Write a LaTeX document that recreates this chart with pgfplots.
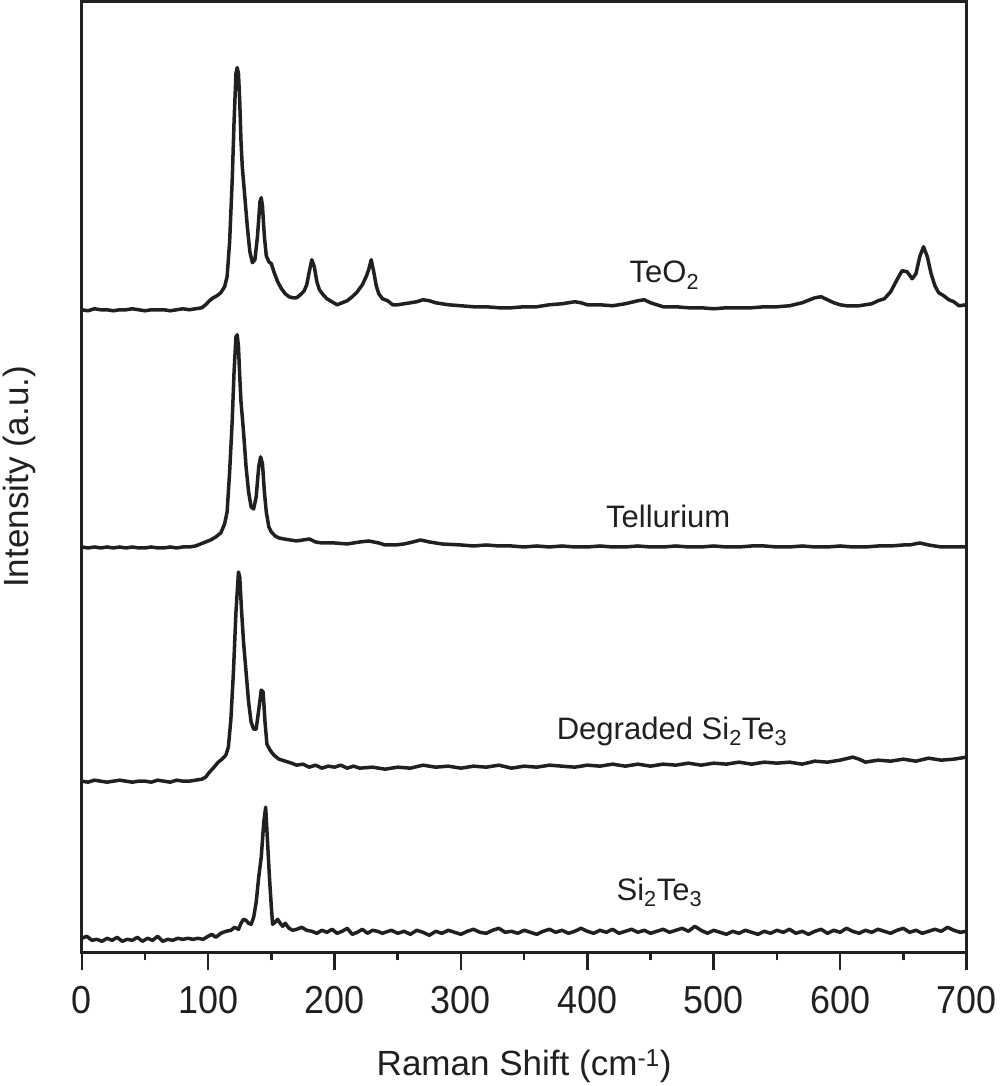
\documentclass[border=0pt]{standalone}
\usepackage{pgfplots}
\usepackage{pgfplotstable}
\pgfplotsset{compat=1.18}
\usepackage{fontspec}
\setmainfont{Liberation Sans}
\newfontfamily\narrowfont{Liberation Sans}[FakeStretch=0.92]
\definecolor{ink}{RGB}{35,31,32}

\pgfplotstableread{
x py
0 308
5 309
10 307
15 308
20 308
25 309
30 308
35 308
40 307
45 308
50 309
55 308
60 308
65 308
70 309
75 308
80 307
85 308
90 307
95 306
98 303
101 299
104 296
107 294
110 291
113 285
115 275
117 240
119 180
120.5 120
122 72
123 66
124 72
125 100
126 140
127 165
129 195
131 225
133 250
135 261
137 258
139 235
141 200
142 196
143 205
144.5 235
146 254
148 260
150 262
152 270
155 280
158 287
161 292
164 295
167 296
170 296
173 293
176 289
178 283
180 270
182 258
184 265
186 280
188 288
191 293
194 297
198 300
202 303
206 301
210 299
214 295
218 290
222 283
225 275
227 268
229 258
231 270
233 284
235 292
238 297
242 299
246 303
250 303
255 302
260 301
265 300
270 298
275 299
280 301
285 302
290 303
300 304
310 305
320 305
330 306
340 306
350 305
360 305
370 303
380 302
390 300
395 301
400 303
410 303
420 304
430 302
440 299
445 298
450 301
460 305
470 305
480 306
490 306
500 307
510 306
520 306
530 306
540 305
550 305
560 304
570 301
580 296
585 295
590 298
595 301
600 303
605 304
610 304
615 304
620 303
625 302
630 299
635 297
640 290
645 278
649 269
653 270
657 277
660 272
663 255
666 245
669 255
672 272
675 284
678 291
682 294
686 298
690 300
694 304
700 303
}\teo

\pgfplotstableread{
x py
0 545
5 546
10 545
15 546
20 545
25 546
30 545
35 546
40 545
45 546
50 546
55 545
60 546
65 546
70 545
75 546
80 545
85 545
90 544
94 542
98 540
102 538
106 535
110 531
113 522
115 510
117 470
119 420
120.5 370
122 335
123 333
124 345
125 375
126 400
128 430
130 465
132 490
134 505
136 507
138 495
140 465
141.5 455
143 462
144.5 490
146 510
148 525
150 530
153 534
156 536
160 537
165 538
170 539
175 538
180 537
185 540
190 541
200 541
210 542
220 540
227 539
235 541
240 543
248 543
255 542
262 540
268 538
275 540
285 542
300 543
310 544
320 543
330 544
340 544
350 545
360 544
370 545
380 544
390 545
400 545
410 544
420 545
430 545
440 544
450 545
460 545
470 544
480 545
490 545
500 544
510 545
520 545
530 544
540 544
550 545
560 545
570 544
580 545
590 545
600 544
610 545
620 545
630 544
640 544
650 543
655 543
663 541
670 543
680 545
690 545
700 545
}\tel

\pgfplotstableread{
x py
0 779
5 780
10 778
15 779
20 780
25 779
30 778
35 779
40 780
45 779
50 779
55 780
60 778
65 779
70 780
75 778
80 779
85 779
90 778
95 777
98 775
101 770
104 766
108 760
111 757
114 753
116 745
118 717
120 670
122 610
124 570
125 575
126.5 610
128 640
130 670
132 700
134 720
136 727
138 727
140 708
142 688
143.5 690
145 720
146.5 742
149 748
152 753
156 757
161 759
166 761
170 763
175 762
180 765
185 763
190 766
195 764
200 765
205 763
210 766
215 764
220 766
230 765
240 767
250 765
260 766
270 763
280 765
290 764
300 766
310 764
320 765
330 763
340 766
350 764
360 765
370 763
380 764
390 765
400 763
410 764
420 762
430 764
440 762
450 764
460 762
470 763
480 761
490 763
500 761
510 762
520 760
530 762
540 760
550 761
560 760
570 762
580 759
590 760
600 758
610 755
615 757
620 760
630 758
640 759
650 757
660 759
670 756
680 758
690 757
700 755
}\deg

\pgfplotstableread{
x py
0 936
4 934
8 938
12 937
16 939
20 936
24 938
28 935
32 939
36 937
40 938
44 935
48 939
52 936
56 938
60 934
64 939
68 937
72 938
76 936
80 937
84 936
88 937
92 936
96 937
100 934
103 932
106 935
110 931
114 929
118 928
121 925
124 927
126 921
128 917
130 918
132 921
134 922
136 915
138 900
140 875
142 855
144 820
145.5 805
147 840
148.5 875
150 905
151 922
153 920
155 917
157 921
159 924
161 921
164 926
167 928
170 927
174 925
178 928
182 929
186 931
190 928
194 930
198 927
202 931
206 929
210 926
214 932
218 930
222 927
226 931
230 928
234 929
238 931
240 930
245 928
250 931
255 929
260 932
265 928
270 930
275 933
280 929
285 931
290 928
295 930
300 932
305 929
310 927
315 930
320 931
325 928
330 926
335 930
340 929
345 931
350 928
355 930
360 932
365 929
370 927
375 930
380 928
385 931
390 929
395 926
400 929
405 931
410 928
415 930
420 927
425 931
430 929
435 927
440 930
445 928
450 931
455 929
460 927
465 930
470 928
475 926
480 929
485 924
490 928
495 931
500 928
505 930
510 932
515 929
520 931
525 928
530 930
535 932
540 929
545 931
550 928
555 930
560 927
565 931
570 929
575 932
580 929
585 927
590 931
595 928
600 930
605 926
610 929
615 931
620 928
625 930
630 927
635 929
640 931
645 928
650 926
655 930
660 928
665 931
670 929
675 927
680 929
685 925
690 928
695 930
700 929
}\sit

\begin{document}
\begin{tikzpicture}
\begin{axis}[
  scale only axis,
  width=884pt, height=950pt,
  xmin=0, xmax=700, ymin=0, ymax=950,
  y dir=reverse,
  axis line style={ink, line width=3pt},
  xtick={0,100,...,700},
  minor xtick={50,150,...,650},
  ytick=\empty,
  tick align=outside,
  xtick pos=bottom,
  major tick length=18pt,
  minor tick length=8pt,
  every tick/.style={ink, line width=2.5pt},
  xticklabel style={font=\narrowfont\fontsize{39}{42}\selectfont, text=ink, yshift=-12pt},
  /pgf/number format/assume math mode=true,
  xlabel={Raman Shift (cm\textsuperscript{-1})},
  xlabel style={font=\fontsize{35}{40}\selectfont, text=ink, at={(axis description cs:0.5,0)}, anchor=base, yshift=-123pt},
  ylabel={Intensity (a.u.)},
  ylabel style={font=\fontsize{35}{40}\selectfont, text=ink, at={(axis description cs:-0.05995,0.5)}, anchor=base},
  clip=false,
]
\addplot[ink, line width=3.5pt, line join=round] table[x=x, y=py] {\teo};
\addplot[ink, line width=3.5pt, line join=round] table[x=x, y=py] {\tel};
\addplot[ink, line width=3.5pt, line join=round] table[x=x, y=py] {\deg};
\addplot[ink, line width=3.5pt, line join=round] table[x=x, y=py] {\sit};
\node[font=\fontsize{31}{36}\selectfont, text=ink, anchor=base] at (axis cs:461,281) {TeO\textsubscript{2}};
\node[font=\fontsize{31}{36}\selectfont, text=ink, anchor=base] at (axis cs:464,526) {Tellurium};
\node[font=\fontsize{31}{36}\selectfont, text=ink, anchor=base] at (axis cs:467,737) {Degraded Si\textsubscript{2}Te\textsubscript{3}};
\node[font=\fontsize{31}{36}\selectfont, text=ink, anchor=base] at (axis cs:457,898) {Si\textsubscript{2}Te\textsubscript{3}};
\end{axis}
\end{tikzpicture}
\end{document}
